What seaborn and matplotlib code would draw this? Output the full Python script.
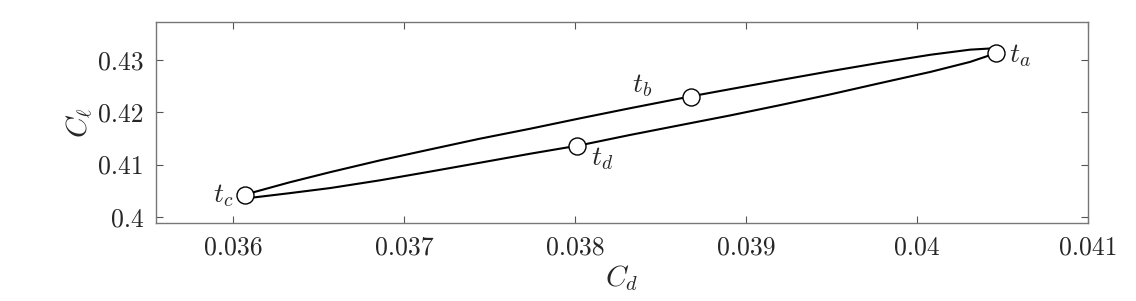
import numpy as np
import pandas as pd
import matplotlib
matplotlib.use("Agg")
import matplotlib.pyplot as plt
import seaborn as sns

# loop: upper branch (tc -> ta), lower branch (tc -> ta)
cd_upper = [0.03605, 0.03610, 0.03633, 0.03657, 0.03686, 0.03715, 0.03744, 0.03774,
            0.03803, 0.03832, 0.03867, 0.03891, 0.03920, 0.03949, 0.03978, 0.04008,
            0.04031, 0.04044, 0.04048]
cl_upper = [0.40393, 0.40451, 0.40658, 0.40855, 0.41080, 0.41287, 0.41492, 0.41687,
            0.41885, 0.42077, 0.42301, 0.42445, 0.42617, 0.42786, 0.42947, 0.43103,
            0.43200, 0.43225, 0.43190]
cd_lower = [0.03605, 0.03610, 0.03633, 0.03657, 0.03686, 0.03715, 0.03744, 0.03774,
            0.03803, 0.03832, 0.03867, 0.03891, 0.03920, 0.03949, 0.03978, 0.04008,
            0.04031, 0.04043, 0.04048]
cl_lower = [0.40393, 0.40361, 0.40451, 0.40550, 0.40698, 0.40863, 0.41032, 0.41208,
            0.41369, 0.41565, 0.41789, 0.41942, 0.42138, 0.42341, 0.42556, 0.42775,
            0.42965, 0.43097, 0.43190]

marker_names = ['t_a', 't_b', 't_c', 't_d']
marker_cd = [0.04046, 0.03868, 0.03607, 0.03801]
marker_cl = [0.43135, 0.42291, 0.40426, 0.41352]

xticks = [0.036, 0.037, 0.038, 0.039, 0.040, 0.041]
xtick_labels = ['0.036', '0.037', '0.038', '0.039', '0.04', '0.041']
yticks = [0.40, 0.41, 0.42, 0.43]
ytick_labels = ['0.4', '0.41', '0.42', '0.43']

sns.set_style('ticks')
plt.rcParams['font.family'] = 'serif'
plt.rcParams['font.serif'] = ['cmr10', 'DejaVu Serif']
plt.rcParams['mathtext.fontset'] = 'cm'
plt.rcParams['axes.formatter.use_mathtext'] = True

# one closed path: upper branch out, lower branch back
loop = pd.DataFrame({
    'Cd': cd_upper + cd_lower[::-1],
    'Cl': cl_upper + cl_lower[::-1],
})

fig = plt.figure(figsize=(11.36, 3.01), dpi=100)
ax = fig.add_axes([0.1373, 0.2591, 0.8204, 0.6678])

sns.lineplot(data=loop, x='Cd', y='Cl', sort=False, estimator=None,
             color='black', linewidth=1.5, ax=ax)
sns.scatterplot(x=marker_cd, y=marker_cl, s=150, color='white',
                edgecolor='black', linewidth=1.0, zorder=5, ax=ax)

# label offsets in points
offsets = {'t_a': (10, -2, 'left'), 't_b': (-28, 8, 'right'),
           't_c': (-8, -1, 'right'), 't_d': (10, -9, 'left')}
for name, x, y in zip(marker_names, marker_cd, marker_cl):
    dx, dy, ha = offsets[name]
    ax.annotate(f'${name}$', (x, y), xytext=(dx, dy), textcoords='offset points',
                ha=ha, va='center', fontsize=20)

ax.set_xlim(0.03555, 0.041)
ax.set_ylim(0.3988, 0.4373)
ax.set_xticks(xticks)
ax.set_xticklabels(xtick_labels)
ax.set_yticks(yticks)
ax.set_yticklabels(ytick_labels)
ax.tick_params(direction='in', length=5, width=0.8, color='#555555',
               labelsize=18.5, top=True, right=True, pad=9)
for s in ax.spines.values():
    s.set_color('#777777')
    s.set_linewidth(1.0)

ax.set_xlabel(r'$C_d$', fontsize=21, labelpad=3)
ax.set_ylabel(r'$C_\ell$', fontsize=21, labelpad=2)

fig.savefig('out.png', dpi=100)
